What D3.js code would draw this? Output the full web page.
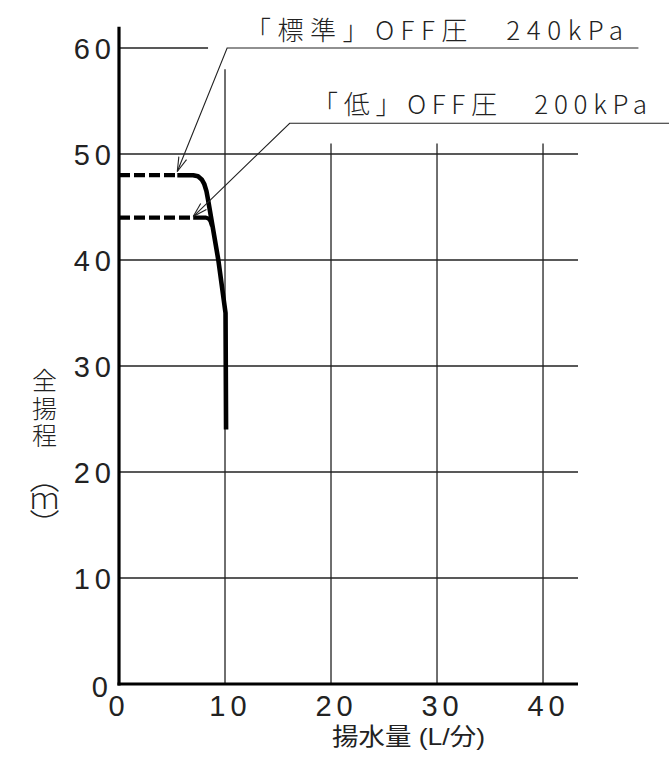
<!DOCTYPE html>
<html><head><meta charset="utf-8">
<script src="https://cdn.jsdelivr.net/npm/d3@7"></script>
<style>
html,body{margin:0;padding:0;background:#fff;}
svg text{font-family:"Noto Sans CJK JP","Noto Sans",sans-serif;fill:#222;}
svg text.num{font-family:"Liberation Sans","Noto Sans CJK JP",sans-serif;}
</style></head>
<body>
<svg id="chart" width="669" height="759"></svg>
<script>
// ---- data ----
const xTicks = [0, 10, 20, 30, 40];
const yTicks = [0, 10, 20, 30, 40, 50, 60];
const xLabel = "揚水量 (L/分)";
const yLabel = "全揚程";
const yUnit = "（ｍ）";
// dashed (closed-valve) parts
const stdDashed = [[0, 48], [5.5, 48]];
const lowDashed = [[0, 44], [7.0, 44]];
// standard OFF-pressure curve (solid)
const stdCurveX = [5.5, 7.0, 7.45, 7.8, 8.05, 8.25, 8.4, 9.37, 10.05, 10.1];
const stdCurveY = [48, 48, 47.9, 47.6, 47.15, 46.5, 45.7, 40, 35, 24];
// low OFF-pressure branch (solid)
const lowCurveX = [7.0, 8.2, 8.45, 8.62, 8.78];
const lowCurveY = [44, 44, 43.9, 43.7, 43.2];
const annLabels = ["「標準」OFF圧\u3000240kPa", "「低」OFF圧\u3000200kPa"];
const annTipX = [5.5, 7.0];
const annTipY = [48.35, 44.1];
const annElbowX = [10.2, 16.1];
const annElbowY = [60, 52.9];
const annEndX = [49.0, 52];

// ---- layout ----
const svg = d3.select("#chart");
const x = d3.scaleLinear().domain([0, 43.3]).range([119, 578]);
const y = d3.scaleLinear().domain([0, 60]).range([684, 48]);

const grid = svg.append("g").attr("stroke", "#222").attr("stroke-width", 1.3);
yTicks.filter(v => v > 0).forEach(v => {
  grid.append("line")
    .attr("x1", x(0)).attr("x2", v === 60 ? x(8.4) : x(43.3))
    .attr("y1", y(v)).attr("y2", y(v));
});
xTicks.filter(v => v > 0).forEach(v => {
  grid.append("line")
    .attr("x1", x(v)).attr("x2", x(v))
    .attr("y1", y(0)).attr("y2", v === 10 ? y(58.0) : y(51));
});

// axes
svg.append("line").attr("x1", x(0)).attr("x2", x(0)).attr("y1", y(0) + 1.5).attr("y2", y(62))
  .attr("stroke", "#000").attr("stroke-width", 3.2);
svg.append("line").attr("x1", x(0) - 1.5).attr("x2", x(43.3)).attr("y1", y(0)).attr("y2", y(0))
  .attr("stroke", "#000").attr("stroke-width", 3.2);

// tick labels
const tickFont = 29;
yTicks.forEach(v => {
  if (v === 0) {
    svg.append("text").attr("class", "num").attr("x", x(0) - 11).attr("y", y(0) + 13)
      .attr("text-anchor", "end")
      .attr("font-size", tickFont).text(v);
  } else {
    svg.append("text").attr("class", "num").attr("x", x(0) - 8).attr("y", y(v) + 11)
      .attr("text-anchor", "end")
      .attr("font-size", tickFont).attr("letter-spacing", 5).attr("dx", 5).text(v);
  }
});
xTicks.forEach(v => {
  svg.append("text").attr("class", "num").attr("x", x(v) + (v ? 3 : 0)).attr("y", y(0) + 32)
    .attr("text-anchor", "middle")
    .attr("font-size", tickFont).attr("letter-spacing", 5).attr("dx", v ? 2.5 : 0).text(v);
});

// axis titles
svg.append("text").attr("class", "num").attr("x", 332).attr("y", 745)
  .attr("font-size", 24)
  .attr("textLength", 153).attr("lengthAdjust", "spacingAndGlyphs").text(xLabel);

const ycx = 44.5;
svg.append("text").attr("x", ycx).attr("y", 368)
  .style("writing-mode", "vertical-rl").style("text-orientation", "upright")
  .attr("font-size", 25).attr("font-weight", 300).attr("letter-spacing", 2.5).text(yLabel);
svg.append("text").attr("x", ycx).attr("y", 463)
  .style("writing-mode", "vertical-rl").style("text-orientation", "upright")
  .attr("font-size", 30).attr("font-weight", 300).attr("letter-spacing", -7).text(yUnit);

// curves
const line = d3.line().x(d => x(d[0])).y(d => y(d[1]));
[stdDashed, lowDashed].forEach(pts => {
  svg.append("path").attr("d", line(pts)).attr("fill", "none")
    .attr("stroke", "#000").attr("stroke-width", 4.2).attr("stroke-dasharray", "11,4");
});
const stdPts = stdCurveX.map((v, i) => [v, stdCurveY[i]]);
const lowPts = lowCurveX.map((v, i) => [v, lowCurveY[i]]);
svg.append("path").attr("d", line(stdPts))
  .attr("fill", "none").attr("stroke", "#000").attr("stroke-width", 4.6).attr("stroke-linejoin", "round");
svg.append("path").attr("d", line(lowPts))
  .attr("fill", "none").attr("stroke", "#000").attr("stroke-width", 4.2).attr("stroke-linejoin", "round");

// annotations
const annTextX = [245, 312];
const annTextW = [378, 335];
const annTextY = [40, 114];
annLabels.forEach((lab, i) => {
  const tx = x(annTipX[i]), ty = y(annTipY[i]);
  const ex = x(annElbowX[i]), ey = y(annElbowY[i]);
  const g = svg.append("g").attr("stroke", "#222").attr("stroke-width", 1.1).attr("fill", "none");
  g.append("polyline").attr("points", `${tx},${ty} ${ex},${ey} ${x(annEndX[i])},${ey}`);
  const ang = Math.atan2(ey - ty, ex - tx);
  const L = 15, a = 0.28;
  [ang + a, ang - a].forEach(b => {
    g.append("line").attr("x1", tx).attr("y1", ty)
      .attr("x2", tx + L * Math.cos(b)).attr("y2", ty + L * Math.sin(b));
  });
  svg.append("text").attr("x", annTextX[i]).attr("y", annTextY[i])
    .attr("font-size", 26).attr("font-weight", 300)
    .attr("textLength", annTextW[i]).attr("lengthAdjust", "spacing").text(lab);
});
</script>
</body></html>
